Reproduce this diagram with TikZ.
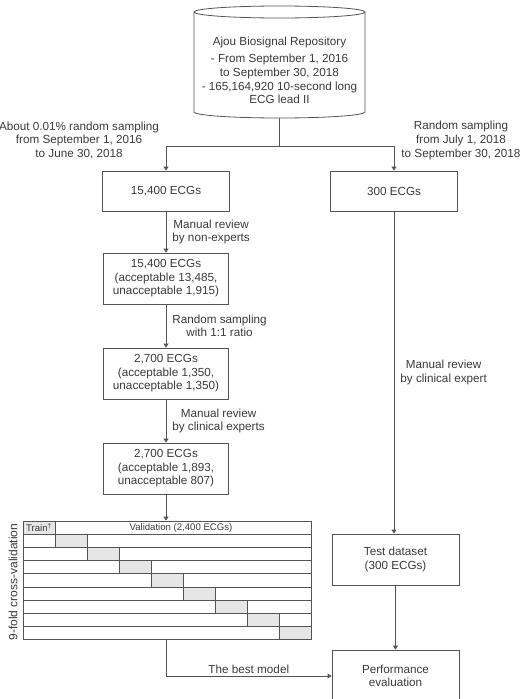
\documentclass[tikz,border=0pt]{standalone}
\usepackage{fontspec}
\setmainfont{Liberation Sans}
\usepackage{xcolor}
\usetikzlibrary{arrows.meta,positioning}

\definecolor{linegray}{HTML}{545454}
\definecolor{textgray}{HTML}{3A3A3A}
\definecolor{cellgray}{HTML}{E6E6E6}

\tikzset{
  flowbox/.style={draw=linegray, line width=0.8pt, minimum width=125pt, minimum height=51pt, align=center, text=textgray, inner sep=2pt},
  note/.style={align=center, text=textgray, inner sep=1pt},
  flowline/.style={draw=linegray, line width=0.8pt},
  flowarrow/.style={flowline, -{Triangle[length=4pt,width=5pt]}},
  tablefont/.style={font=\fontsize{9.6}{11}\selectfont, text=textgray},
}

\begin{document}
\begin{tikzpicture}[x=1pt,y=-1pt, font=\fontsize{11.7}{13.6}\selectfont]
\useasboundingbox (0,0) rectangle (525,699);
\clip (0,0) rectangle (525,699);

% Repository (cylinder)
\draw[flowline] (279.5,12) ellipse [x radius=85.5, y radius=6];
\draw[flowline] (194,12) -- (194,112) arc[start angle=180, end angle=0, x radius=85.5, y radius=6] -- (365,12);
\node[note] (repo) at (279.5,70.5) {Ajou Biosignal Repository\\[3.5pt]
  - From September 1, 2016\\to September 30, 2018\\- 165,164,920 10-second long\\ECG lead II};
\coordinate (repobottom) at (279.5,118);

% Sampling
\coordinate (split) at (279.5,146);
\node[note] (leftnote) at (79,140.5) {About 0.01\% random sampling\\from September 1, 2016\\to June 30, 2018};
\node[note] (rightnote) at (461,140.5) {Random sampling\\from July 1, 2018\\to September 30, 2018};

% Development set
\node[flowbox, minimum width=127pt, minimum height=40pt] (ecgA) at (166,191) {15,400 ECGs};
\node[flowbox] (reviewA) at (166,278.5) {15,400 ECGs\\(acceptable 13,485,\\unacceptable 1,915)};
\node[flowbox] (balanced) at (166,373.5) {2,700 ECGs\\(acceptable 1,350,\\unacceptable 1,350)};
\node[flowbox] (reviewB) at (166,468.5) {2,700 ECGs\\(acceptable 1,893,\\unacceptable 807)};

% Test set
\node[flowbox, minimum width=127pt, minimum height=40pt] (ecgB) at (394,191) {300 ECGs};
\node[flowbox, minimum width=127pt] (test) at (395.5,559.5) {Test dataset\\(300 ECGs)};
\node[flowbox, minimum width=127pt, minimum height=52pt] (perf) at (395.5,676) {Performance\\evaluation};

% Cross-validation table
\node[draw=linegray, line width=0.8pt, minimum width=288pt, minimum height=118.8pt, inner sep=0pt] (cv) at (167,580.4) {};
\node[draw=linegray, fill=cellgray, line width=0.8pt, minimum width=32pt, minimum height=13.2pt,
      inner sep=0pt, anchor=north west, tablefont] (train) at (cv.north west) {Train\textsuperscript{\dag}};
\node[tablefont] (valid) at (181,527.8) {Validation (2,400 ECGs)};
\foreach \i in {1,...,8} {
  \draw[flowline] (23,521+13.2*\i) -- (311,521+13.2*\i);
  \filldraw[fill=cellgray, draw=linegray, line width=0.8pt] (23+32*\i,521+13.2*\i) rectangle +(32,13.2);
}
\node[rotate=90, text=textgray, font=\fontsize{12}{14}\selectfont] (cvlabel) at (13,582) {9-fold cross-validation};

% Connectors
\draw[flowline] (repobottom) -- (split);
\draw[flowarrow] (split) -| (ecgA.north);
\draw[flowarrow] (split) -| (ecgB.north);
\draw[flowarrow] (ecgA) -- (reviewA) node[midway, right=5pt, note] {Manual review\\by non-experts};
\draw[flowarrow] (reviewA) -- (balanced) node[midway, right=5pt, note] {Random sampling\\with 1:1 ratio};
\draw[flowarrow] (balanced) -- (reviewB) node[midway, right=5pt, note] {Manual review\\by clinical experts};
\draw[flowarrow] (reviewB.south) -- (reviewB.south |- cv.north);
\draw[flowarrow] (ecgB) -- (ecgB |- test.north) node[midway, right=5pt, note] {Manual review\\by clinical expert};
\draw[flowarrow] (test) -- (perf);
\draw[flowarrow] (cv.south -| reviewB.south) |- (perf.west) node[pos=0.75, above, note, inner sep=2pt] {The best model};
\end{tikzpicture}
\end{document}
